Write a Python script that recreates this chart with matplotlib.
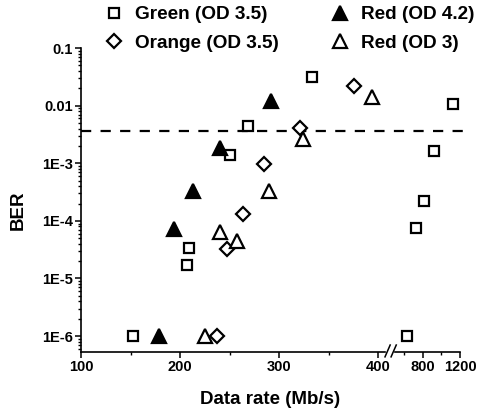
import matplotlib
matplotlib.use("Agg")
import matplotlib.pyplot as plt
from matplotlib.lines import Line2D
from matplotlib.ticker import LogLocator, NullFormatter

plt.rcParams['font.family'] = ['Liberation Sans', 'DejaVu Sans']
plt.rcParams['font.weight'] = 'bold'

# data (x in Mb/s, y = BER)
green_x = [153, 207, 209, 250, 269, 333, 637, 723, 809, 916, 1120]
green_y = [1e-6, 1.7e-5, 3.4e-5, 1.4e-3, 4.5e-3, 0.031, 1e-6, 7.6e-5, 2.2e-4, 1.6e-3, 0.0105]

orange_x = [237, 247, 264, 285, 321, 376]
orange_y = [1e-6, 3.2e-5, 1.3e-4, 9.8e-4, 4.1e-3, 0.022]

red42_x = [179, 194, 213, 240, 292]
red42_y = [1e-6, 7.2e-5, 3.3e-4, 1.85e-3, 0.012]

red3_x = [225, 240, 258, 290, 324, 394]
red3_y = [1e-6, 6.4e-5, 4.5e-5, 3.3e-4, 2.6e-3, 0.014]

fec_limit = 3.6e-3

ytick_vals = [1e-6, 1e-5, 1e-4, 1e-3, 1e-2, 1e-1]
ytick_labels = ['1E-6', '1E-5', '1E-4', '1E-3', '0.01', '0.1']
left_ticks = [100, 200, 300, 400]
left_minor = [150, 250, 350]
right_ticks = [800, 1200]
right_minor = [600, 1000]

W, H = 493, 413
fig = plt.figure(figsize=(W / 100, H / 100), dpi=100)
ax1 = fig.add_axes([81 / W, 61 / H, 304 / W, 304 / H])
ax2 = fig.add_axes([395 / W, 61 / H, 65 / W, 304 / H], sharey=ax1)

series = [
    (green_x, green_y, dict(marker='s', ms=7, mfc='white')),
    (orange_x, orange_y, dict(marker='D', ms=7, mfc='white')),
    (red42_x, red42_y, dict(marker='^', ms=10, mfc='black')),
    (red3_x, red3_y, dict(marker='^', ms=10, mfc='white')),
]
for ax in (ax1, ax2):
    ax.patch.set_visible(False)
    for xs, ys, st in series:
        ax.plot(xs, ys, ls='none', mec='black', mew=1.6, zorder=3, **st)
    ax.set_yscale('log')
    for s in ('top', 'right'):
        ax.spines[s].set_visible(False)
    ax.spines['bottom'].set_linewidth(1.2)
    ax.spines['left'].set_linewidth(1.2)
    ax.tick_params(which='major', length=4, width=1.1, labelsize=10.5, pad=2)
    ax.tick_params(which='minor', length=2, width=1.0)

ax1.set_ylim(5.3e-7, 0.1)
ax1.set_xlim(100, 407)
ax1.set_xticks(left_ticks)
ax1.set_xticks(left_minor, minor=True)
ax1.set_yticks(ytick_vals, ytick_labels)
ax1.yaxis.set_minor_locator(LogLocator(base=10, subs=range(2, 10), numticks=20))
ax1.yaxis.set_minor_formatter(NullFormatter())
for lab in ax1.get_xticklabels() + ax1.get_yticklabels():
    lab.set_fontweight('bold')

ax2.set_xlim(503, 1200)
ax2.set_xticks(right_ticks)
ax2.set_xticks(right_minor, minor=True)
ax2.spines['left'].set_visible(False)
ax2.tick_params(axis='y', which='both', left=False, labelleft=False)
for lab in ax2.get_xticklabels():
    lab.set_fontweight('bold')

# dashed threshold line across both parts
ax1.plot([100, 490], [fec_limit, fec_limit], color='black', lw=1.6,
         dashes=(4.6, 4.2), clip_on=False, zorder=2)

# axis break marks
for dx in (0.0, 0.02):
    ax1.plot([1.0 + dx, 1.017 + dx], [-0.016, 0.023], color='black', lw=1.1,
             transform=ax1.transAxes, clip_on=False)

fig.text(18 / W, 1 - 210 / H, 'BER', rotation=90, ha='center', va='center',
         fontsize=13.5, fontweight='bold')
fig.text(270 / W, 13 / H, 'Data rate (Mb/s)', ha='center', va='center',
         fontsize=13.5, fontweight='bold')

handles = [
    Line2D([], [], ls='none', marker='s', ms=7, mfc='white', mec='black', mew=1.6),
    Line2D([], [], ls='none', marker='D', ms=7, mfc='white', mec='black', mew=1.6),
    Line2D([], [], ls='none', marker='^', ms=10, mfc='black', mec='black', mew=1.6),
    Line2D([], [], ls='none', marker='^', ms=10, mfc='white', mec='black', mew=1.6),
]
labels = ['Green (OD 3.5)', 'Orange (OD 3.5)', 'Red (OD 4.2)', 'Red (OD 3)']
fig.legend(handles, labels, ncol=2, loc='upper left', bbox_to_anchor=(101 / W, 1 - 4 / H),
           frameon=False, prop={'size': 13.7, 'weight': 'bold'}, handlelength=1.15,
           handletextpad=0.55, columnspacing=2.6, labelspacing=0.6,
           borderaxespad=0.0, borderpad=0.1)

fig.savefig('out.png', dpi=100)
